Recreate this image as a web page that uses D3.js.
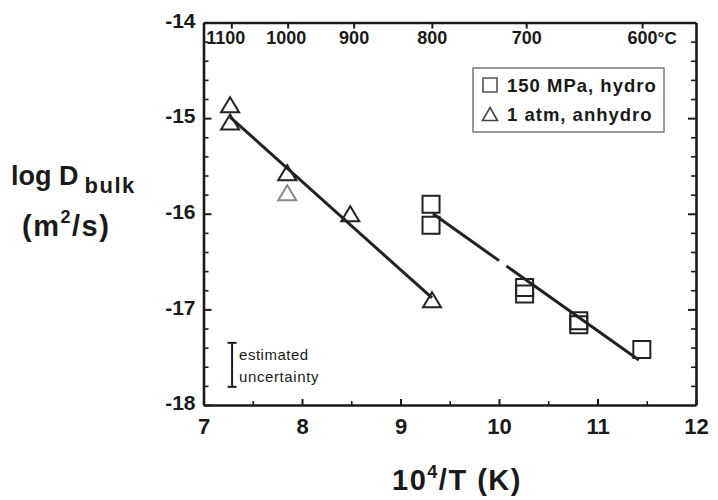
<!DOCTYPE html>
<html>
<head>
<meta charset="utf-8">
<script src="https://cdn.jsdelivr.net/npm/d3@7"></script>
<style>
  html, body { margin: 0; padding: 0; background: #fff; }
  svg { display: block; }
  text { font-family: "Liberation Sans", Arial, Helvetica, sans-serif; fill: #1a1a1a; }
</style>
</head>
<body>
<svg id="chart" width="718" height="500"></svg>
<script>
// Axis ranges and tick labels
const xDomain = [7, 12];
const yDomain = [-18, -14];
const xTicks = [7, 8, 9, 10, 11, 12];
const xMinorTicks = [7.5, 8.5, 9.5, 10.5, 11.5];
const yTicks = [-14, -15, -16, -17, -18];
const tempTicksC = [1100, 1000, 900, 800, 700, 600];

// 1 atm, anhydrous runs (10^4/T, log D)
const anhydroX = [7.27, 7.27, 7.85, 8.49, 9.32];
const anhydroY = [-14.86, -15.04, -15.57, -16.0, -16.9];
// repeat run at 1000 °C, printed faint
const anhydroFaintX = [7.85];
const anhydroFaintY = [-15.78];

// 150 MPa, hydrous runs
const hydroX = [9.31, 9.31, 10.26, 10.26, 10.81, 10.81, 11.45];
const hydroY = [-15.9, -16.12, -16.77, -16.84, -17.12, -17.16, -17.42];

// Arrhenius fits
const anhydroFitX = [7.27, 9.32];
const anhydroFitY = [-14.99, -16.88];
// hydrous fit is printed with a short break near 10^4/T = 10
const hydroFitSegX = [[9.33, 10.0], [10.075, 11.42]];
const hydroFitSegY = [[-16.0, -16.49], [-16.546, -17.53]];

// estimated uncertainty bar
const uncX = [7.29];
const uncLow = [-17.81];
const uncHigh = [-17.35];

const legendLabels = ["150 MPa, hydro", "1 atm, anhydro"];

const svg = d3.select("#chart");
const L = 203.5, R = 696, T = 22.5, B = 405;
const x = d3.scaleLinear().domain(xDomain).range([L, R]);
const y = d3.scaleLinear().domain(yDomain).range([B, T]);
const ink = "#1a1a1a";

function styleAxis(g, width) {
  g.selectAll("path.domain").attr("stroke", ink).attr("stroke-width", width);
  g.selectAll(".tick line").attr("stroke", ink).attr("stroke-width", 2);
}

// minor ticks (drawn first so the frame sits on top)
const yMinor = d3.range(-14.2, -17.9, -0.2).filter(v => Math.abs(v - Math.round(v)) > 1e-6);
svg.append("g").attr("transform", `translate(${L},0)`)
  .call(d3.axisLeft(y).tickValues(yMinor).tickSize(-5).tickFormat(""))
  .call(g => { g.select(".domain").remove(); g.selectAll("line").attr("stroke", ink).attr("stroke-width", 1.6); });
svg.append("g").attr("transform", `translate(${R},0)`)
  .call(d3.axisRight(y).tickValues(yMinor).tickSize(-5).tickFormat(""))
  .call(g => { g.select(".domain").remove(); g.selectAll("line").attr("stroke", ink).attr("stroke-width", 1.6); });
svg.append("g").attr("transform", `translate(0,${B})`)
  .call(d3.axisBottom(x).tickValues(xMinorTicks).tickSize(-4).tickFormat(""))
  .call(g => { g.select(".domain").remove(); g.selectAll("line").attr("stroke", ink).attr("stroke-width", 1.6); });

// bottom axis
svg.append("g").attr("transform", `translate(0,${B})`)
  .call(d3.axisBottom(x).tickValues(xTicks).tickSizeInner(-6).tickSizeOuter(0).tickPadding(13).tickFormat(d3.format("d")))
  .call(g => styleAxis(g, 2.6))
  .call(g => g.selectAll("text").attr("font-size", 22).attr("font-weight", "bold").attr("fill", ink));

// left axis
svg.append("g").attr("transform", `translate(${L},0)`)
  .call(d3.axisLeft(y).tickValues(yTicks).tickSizeInner(-8).tickSizeOuter(0).tickPadding(8).tickFormat(d => "-" + Math.abs(d)))
  .call(g => styleAxis(g, 2.6))
  .call(g => g.selectAll("text").attr("font-size", 21).attr("font-weight", "bold").attr("fill", ink).attr("dy", "0.22em"));

// right axis
svg.append("g").attr("transform", `translate(${R},0)`)
  .call(d3.axisRight(y).tickValues(yTicks.slice(1, 4)).tickSizeInner(-8).tickSizeOuter(0).tickFormat(""))
  .call(g => styleAxis(g, 2.6));

// top axis: temperature in °C
const tempToX = c => 1e4 / (c + 273.15);
const topAxis = svg.append("g").attr("transform", `translate(0,${T})`)
  .call(d3.axisTop(x).tickValues(tempTicksC.map(tempToX)).tickSizeInner(-6).tickSizeOuter(0).tickPadding(-21)
    .tickFormat((d, i) => String(tempTicksC[i])))
  .call(g => styleAxis(g, 2.6))
  .call(g => g.selectAll("text").attr("font-size", 18).attr("font-weight", "bold").attr("fill", ink));
topAxis.selectAll(".tick text").filter((d, i) => i === 0).attr("dx", -6);
topAxis.selectAll(".tick text").filter((d, i) => i === 1).attr("dx", -2);
topAxis.selectAll(".tick text").filter((d, i) => i === tempTicksC.length - 1).each(function () {
  const t = d3.select(this);
  const w = this.getComputedTextLength();
  t.attr("text-anchor", "start").attr("x", -w / 2);
  t.append("tspan").attr("font-size", 17).text("°C");
});

// fit lines
const line = d3.line().x(d => x(d[0])).y(d => y(d[1]));
svg.append("path")
  .datum(anhydroFitX.map((v, i) => [v, anhydroFitY[i]]))
  .attr("d", line).attr("fill", "none").attr("stroke", "#222").attr("stroke-width", 3);
svg.selectAll("path.hydro-fit")
  .data(hydroFitSegX.map((xs, k) => xs.map((v, i) => [v, hydroFitSegY[k][i]])))
  .join("path").attr("class", "hydro-fit")
  .attr("d", line).attr("fill", "none").attr("stroke", "#222").attr("stroke-width", 3);

// markers
const triPath = (w, h) => `M0,${-h / 2}L${w / 2},${h / 2}L${-w / 2},${h / 2}Z`;
const sqPath = s => `M${-s / 2},${-s / 2}H${s / 2}V${s / 2}H${-s / 2}Z`;

svg.selectAll("path.sq")
  .data(hydroX.map((v, i) => [v, hydroY[i]]))
  .join("path").attr("class", "sq")
  .attr("transform", d => `translate(${x(d[0])},${y(d[1])})`)
  .attr("d", sqPath(17)).attr("fill", "none").attr("stroke", "#222").attr("stroke-width", 2);

svg.selectAll("path.tri")
  .data(anhydroX.map((v, i) => [v, anhydroY[i]]))
  .join("path").attr("class", "tri")
  .attr("transform", d => `translate(${x(d[0])},${y(d[1])})`)
  .attr("d", triPath(18, 15)).attr("fill", "none").attr("stroke", "#222").attr("stroke-width", 2);

svg.selectAll("path.tri-faint")
  .data(anhydroFaintX.map((v, i) => [v, anhydroFaintY[i]]))
  .join("path").attr("class", "tri-faint")
  .attr("transform", d => `translate(${x(d[0])},${y(d[1])})`)
  .attr("d", triPath(18, 15)).attr("fill", "none").attr("stroke", "#8a8a8a").attr("stroke-width", 2);

// estimated uncertainty bar
const unc = svg.append("g");
uncX.forEach((v, i) => {
  const cx = x(v), y0 = y(uncLow[i]), y1 = y(uncHigh[i]);
  unc.append("line").attr("x1", cx).attr("x2", cx).attr("y1", y0).attr("y2", y1).attr("stroke", ink).attr("stroke-width", 2);
  [y0, y1].forEach(yy => unc.append("line").attr("x1", cx - 4.5).attr("x2", cx + 4.5).attr("y1", yy).attr("y2", yy)
    .attr("stroke", ink).attr("stroke-width", 2));
  unc.append("text").attr("x", cx + 7).attr("y", y1 + 17).attr("font-size", 15).attr("letter-spacing", 0.5).text("estimated");
  unc.append("text").attr("x", cx + 7).attr("y", y1 + 39).attr("font-size", 15).attr("letter-spacing", 0.6).text("uncertainty");
});

// legend
const lg = svg.append("g");
lg.append("rect").attr("x", 473).attr("y", 68).attr("width", 191).attr("height", 64)
  .attr("fill", "#fff").attr("stroke", "#7a7a7a").attr("stroke-width", 1.5);
lg.append("path").attr("transform", "translate(490,85)").attr("d", sqPath(14))
  .attr("fill", "none").attr("stroke", "#555").attr("stroke-width", 1.6);
lg.append("path").attr("transform", "translate(490,114)").attr("d", triPath(15, 13))
  .attr("fill", "none").attr("stroke", "#444").attr("stroke-width", 1.6);
legendLabels.forEach((t, i) => {
  lg.append("text").attr("x", 507).attr("y", 92 + i * 29)
    .attr("font-size", 18.5).attr("font-weight", "bold").attr("letter-spacing", 1).text(t);
});

// axis titles
const yl = svg.append("text").attr("x", 11).attr("y", 185).attr("font-weight", "bold").attr("font-size", 27);
yl.append("tspan").text("log D");
yl.append("tspan").attr("font-size", 22).attr("letter-spacing", 1.5).attr("dx", 6).attr("dy", 8).text("bulk");

const yu = svg.append("text").attr("x", 22).attr("y", 236).attr("font-weight", "bold").attr("font-size", 29)
  .attr("letter-spacing", 1.5);
yu.append("tspan").text("(m");
yu.append("tspan").attr("font-size", 18).attr("dy", -13).text("2");
yu.append("tspan").attr("dy", 13).text("/s)");

const xl = svg.append("text").attr("x", 457).attr("y", 490).attr("text-anchor", "middle")
  .attr("font-weight", "bold").attr("font-size", 29).attr("letter-spacing", 1.5);
xl.append("tspan").text("10");
xl.append("tspan").attr("font-size", 18).attr("dy", -12).text("4");
xl.append("tspan").attr("dy", 12).text("/T (K)");
</script>
</body>
</html>
